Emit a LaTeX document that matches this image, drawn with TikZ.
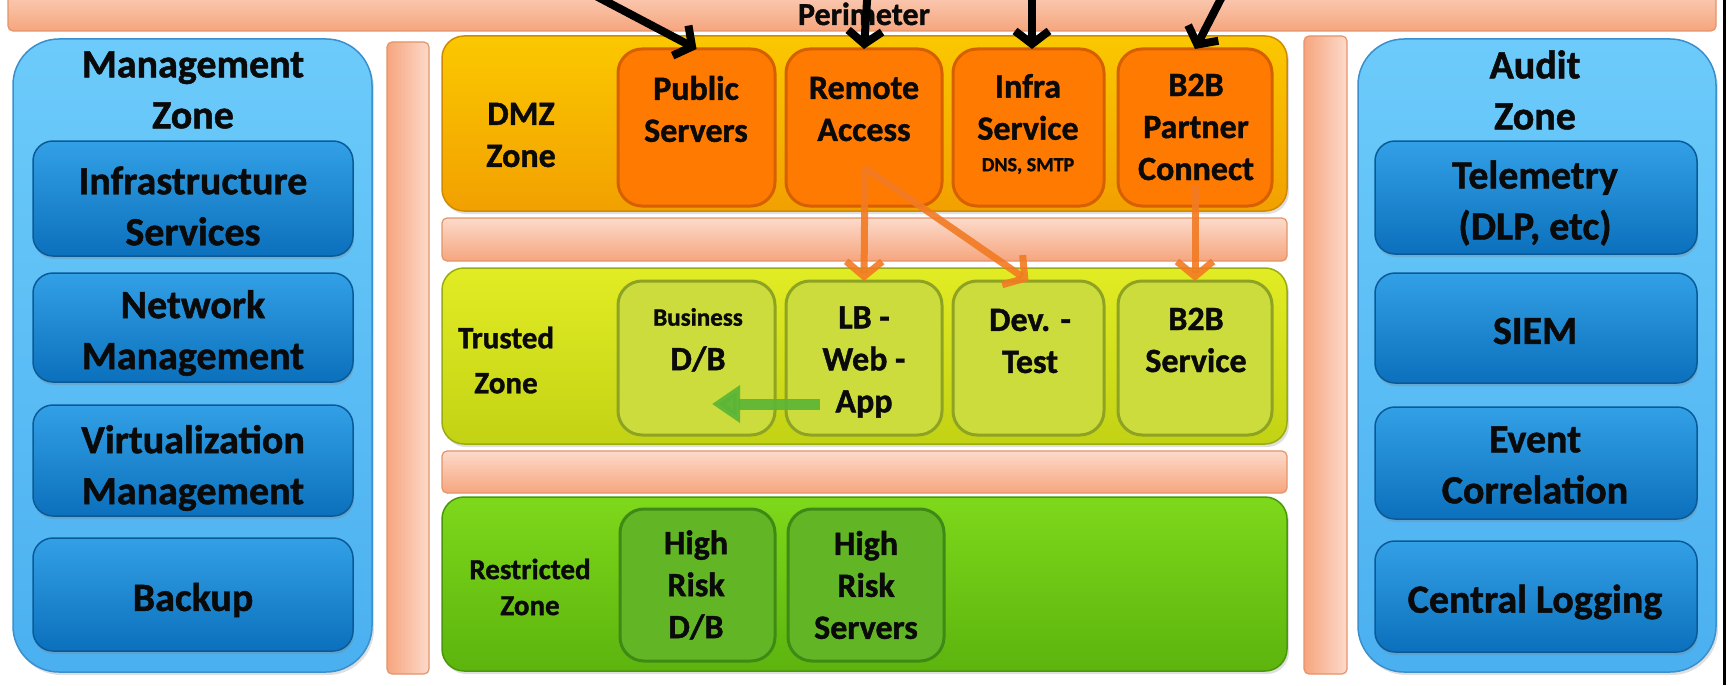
\documentclass[tikz,border=0pt]{standalone}
\usepackage{fontspec}
\setmainfont{Carlito}[BoldFeatures={FakeBold=1.2}]
\usetikzlibrary{arrows.meta,shadows,fit}
\definecolor{peachL}{HTML}{FCDACB}
\definecolor{peachM}{HTML}{F6A57D}
\definecolor{peachD}{HTML}{E4946A}
\definecolor{blueZL}{HTML}{6CCBFA}
\definecolor{blueZM}{HTML}{4BB0F0}
\definecolor{blueZD}{HTML}{3A8FCC}
\definecolor{blueBL}{HTML}{32A0E6}
\definecolor{blueBM}{HTML}{0C70BC}
\definecolor{blueBD}{HTML}{0A5A98}
\definecolor{dmzL}{HTML}{FBC800}
\definecolor{dmzM}{HTML}{F2A000}
\definecolor{dmzD}{HTML}{D08A00}
\definecolor{org}{HTML}{FF7A00}
\definecolor{orgD}{HTML}{D66000}
\definecolor{trustL}{HTML}{E2EC24}
\definecolor{trustM}{HTML}{C2D214}
\definecolor{trustD}{HTML}{9AAC10}
\definecolor{trustB}{HTML}{CBDC3C}
\definecolor{trustBD}{HTML}{8EA323}
\definecolor{restrL}{HTML}{7ED81A}
\definecolor{restrM}{HTML}{5CB40E}
\definecolor{restrD}{HTML}{4A980A}
\definecolor{restrB}{HTML}{62B626}
\definecolor{restrBD}{HTML}{3F8A14}
\definecolor{arrO}{HTML}{F27A22}
\definecolor{arrG}{HTML}{5BB536}
\definecolor{txt}{HTML}{0A0A0A}
\newcommand\szA{\bfseries\fontsize{40}{51}\selectfont}
\newcommand\szB{\bfseries\fontsize{34}{42}\selectfont}
\newcommand\szC{\bfseries\fontsize{29}{36}\selectfont}
\newcommand\szT{\bfseries\fontsize{31}{45}\selectfont}
\newcommand\szP{\bfseries\fontsize{32}{40}\selectfont}
\newcommand\szD{\bfseries\fontsize{25}{30}\selectfont}
\newcommand\szE{\bfseries\fontsize{20}{24}\selectfont}
\begin{document}
\begin{tikzpicture}[x=1pt,y=-1pt,
  every node/.style={inner sep=0pt,outer sep=0pt},
  peachh/.style={draw=peachD,line width=1.2pt,top color=peachL,bottom color=peachM,rounded corners=5pt},
  peachv/.style={draw=peachD,line width=1.2pt,left color=peachM,right color=peachL,rounded corners=5pt},
  bluezone/.style={draw=blueZD,line width=1.5pt,top color=blueZL,bottom color=blueZM,rounded corners=46pt,
     drop shadow={shadow xshift=2pt,shadow yshift=-3pt,opacity=0.25}},
  bluebox/.style={draw=blueBD,line width=1.5pt,top color=blueBL,bottom color=blueBM,rounded corners=20pt,
     drop shadow={shadow xshift=1pt,shadow yshift=-3pt,opacity=0.3}},
  dmzzone/.style={draw=dmzD,line width=1.5pt,top color=dmzL,bottom color=dmzM,rounded corners=22pt,
     drop shadow={shadow xshift=2pt,shadow yshift=-3pt,opacity=0.25}},
  dmzbox/.style={draw=orgD,fill=org,line width=3pt,rounded corners=24pt},
  trustzone/.style={draw=trustD,line width=1.5pt,top color=trustL,bottom color=trustM,rounded corners=22pt,
     drop shadow={shadow xshift=2pt,shadow yshift=-3pt,opacity=0.25}},
  trustbox/.style={draw=trustBD,fill=trustB,line width=3pt,rounded corners=24pt},
  restrzone/.style={draw=restrD,line width=1.5pt,top color=restrL,bottom color=restrM,rounded corners=22pt,
     drop shadow={shadow xshift=2pt,shadow yshift=-3pt,opacity=0.25}},
  restrbox/.style={draw=restrBD,fill=restrB,line width=3pt,rounded corners=24pt},
  lbl/.style={text=txt,align=center},
  blackarrow/.style={line width=8pt,black,-{Straight Barb[length=13pt,width=34pt]}},
  orangearrow/.style={line width=7pt,arrO,opacity=0.9,-{Straight Barb[length=15pt,width=36pt]}},
  greenarrow/.style={line width=11pt,arrG,opacity=0.9,-{Triangle[length=28pt,width=36pt]}}
]
\useasboundingbox (0,0) rectangle (1731,685);
\clip (0,0) rectangle (1731,685);
\fill[white] (0,0) rectangle (1731,685);

% perimeter
\node[peachh,fit={(8,-20) (1716,31)}] (perim) {};
\node[lbl,font=\szP,anchor=base] (tperim) at (864,25) {Perimeter};

% vertical bars
\node[peachv,fit={(387,42) (429,674)}] (vbl) {};
\node[peachv,fit={(1304,36) (1347,674)}] (vbr) {};

% management zone
\node[bluezone,fit={(13,39) (372,672)}] (mgmt) {};
\node[lbl,font=\szA] (tmgmt) at (193,90) {Management\\Zone};
\node[bluebox,fit={(33,141) (353,256)}] (infs) {};
\node[lbl,font=\szA] (tinfs) at (193,206) {Infrastructure\\Services};
\node[bluebox,fit={(33,273) (353,382)}] (netm) {};
\node[lbl,font=\szA] (tnetm) at (193,333) {Network\\Management};
\node[bluebox,fit={(33,405) (353,516)}] (virt) {};
\node[lbl,font=\szA] (tvirt) at (193,468) {Virtualization\\Management};
\node[bluebox,fit={(33,538) (353,651)}] (back) {};
\node[lbl,font=\szA] (tback) at (193,600) {Backup};

% audit zone
\node[bluezone,fit={(1358,39) (1716,672)}] (audit) {};
\node[lbl,font=\szA] (taudit) at (1535,90) {Audit\\Zone};
\node[bluebox,fit={(1375,141) (1697,254)}] (tele) {};
\node[lbl,font=\szA] (ttele) at (1535,203) {Telemetry\\(DLP, etc)};
\node[bluebox,fit={(1375,273) (1697,383)}] (siem) {};
\node[lbl,font=\szA] (tsiem) at (1535,331) {SIEM};
\node[bluebox,fit={(1375,407) (1697,519)}] (evc) {};
\node[lbl,font=\szA] (tevc) at (1535,465) {Event\\Correlation};
\node[bluebox,fit={(1375,541) (1697,652)}] (clog) {};
\node[lbl,font=\szA] (tclog) at (1535,602) {Central Logging};

% DMZ
\node[dmzzone,fit={(442,36) (1287,211)}] (dmz) {};
\node[lbl,font=\szB] (tdmz) at (521,135) {DMZ\\Zone};
\node[dmzbox,fit={(618,49) (775,206)}] (pub) {};
\node[lbl,font=\szB] (tpub) at (696,109) {Public\\Servers};
\node[dmzbox,fit={(786,49) (942,206)}] (rem) {};
\node[lbl,font=\szB] (trem) at (864,109) {Remote\\Access};
\node[dmzbox,fit={(953,49) (1104,206)}] (infra) {};
\node[lbl,font=\szB] (tinfra) at (1028,107) {Infra\\Service};
\node[lbl,font=\szE] (tdns) at (1028,166) {DNS, SMTP};
\node[dmzbox,fit={(1118,49) (1272,206)}] (bpc) {};
\node[lbl,font=\szB] (tbpc) at (1196,127) {B2B\\Partner\\Connect};

% separators
\node[peachh,fit={(442,218) (1287,261)}] (bar1) {};
\node[peachh,fit={(442,451) (1287,493)}] (bar2) {};

% trusted
\node[trustzone,fit={(442,268) (1287,444)}] (trust) {};
\node[lbl,font=\szT] (ttrust) at (506,360) {Trusted\\Zone};
\node[trustbox,fit={(618,281) (775,435)}] (bdb) {};
\node[lbl,font=\szD] (tbus) at (698,317) {Business};
\node[lbl,font=\szB] (tbdb) at (698,359) {D/B};
\node[trustbox,fit={(786,281) (942,435)}] (lb) {};
\node[lbl,font=\szB] (tlb) at (864,362) {LB -\\Web -\\App};
\node[trustbox,fit={(953,281) (1104,435)}] (dev) {};
\node[lbl,font=\szB] (tdev) at (1030,341) {Dev. -\\Test};
\node[trustbox,fit={(1118,281) (1272,435)}] (bs) {};
\node[lbl,font=\szB] (tbs) at (1196,340) {B2B\\Service};

% restricted
\node[restrzone,fit={(442,497) (1287,671)}] (restr) {};
\node[lbl,font=\szC] (trestr) at (530,587) {Restricted\\Zone};
\node[restrbox,fit={(620,509) (775,661)}] (hrdb) {};
\node[lbl,font=\szB] (thrdb) at (696,585) {High\\Risk\\D/B};
\node[restrbox,fit={(788,509) (944,661)}] (hrs) {};
\node[lbl,font=\szB] (thrs) at (866,585) {High\\Risk\\Servers};

% arrow end points
\coordinate (inA) at (575,-15);
\coordinate (inB) at (868,-15);
\coordinate (inC) at (1032,-15);
\coordinate (inD) at (1228,-15);
\coordinate (remOut) at (865,168);
\coordinate (bpcOut) at (1195,186);
\coordinate (gS) at (820,404);
\coordinate (gE) at (712,404);

\draw[blackarrow] (inA) -- (pub.north);
\draw[blackarrow] (inB) -- (rem.north);
\draw[blackarrow] (inC) -- (infra.north -| inC);
\draw[blackarrow] (inD) -- (bpc.north);
\draw[orangearrow] (remOut) -- (lb.north);
\draw[orangearrow] (remOut) -- (dev.north);
\draw[orangearrow] (bpcOut) -- (bs.north);
\draw[greenarrow] (gS) -- (gE);

% right border line
\draw[line width=3pt,black] (1724,0) -- (1724,685);
\end{tikzpicture}
\end{document}
